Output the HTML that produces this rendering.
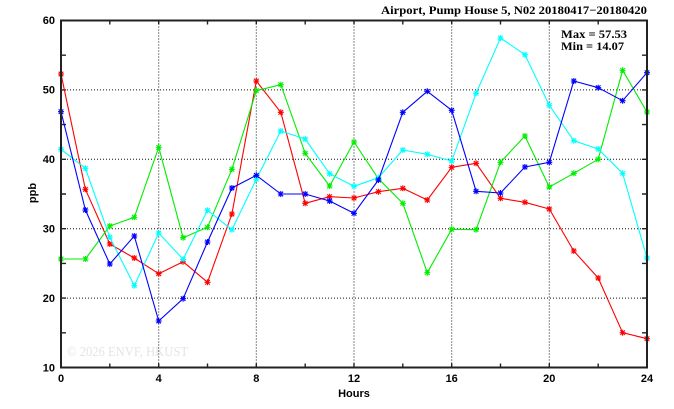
<!DOCTYPE html>
<html><head><meta charset="utf-8"><style>
html,body{margin:0;padding:0;background:#fff;}
svg{display:block;}
.tk{font-family:"Liberation Sans",sans-serif;font-weight:bold;font-size:11px;fill:#000;}
.sf{font-family:"Liberation Serif",serif;font-weight:bold;font-size:11.5px;fill:#000;}
</style></head><body>
<svg width="674" height="409" viewBox="0 0 674 409" xmlns="http://www.w3.org/2000/svg">
<defs>
<path id="m" d="M-3,0h6M0,-3v6M-2.3,-2.3l4.6,4.6M-2.3,2.3l4.6,-4.6" fill="none"/>
</defs>
<rect width="674" height="409" fill="#fff"/>
<!-- watermark -->
<text x="67" y="356" font-family="Liberation Serif,serif" font-size="14" fill="#e4e4e4" textLength="121" lengthAdjust="spacingAndGlyphs">© 2026  ENVF, HKUST</text>
<!-- grid -->
<g stroke="#111" stroke-width="1" stroke-dasharray="1,2" fill="none">
<path d="M158.7,20.5V367.5M256.3,20.5V367.5M354,20.5V367.5M451.7,20.5V367.5M549.3,20.5V367.5"/>
<path d="M61,89.9H647M61,159.3H647M61,228.7H647M61,298.1H647"/>
</g>
<!-- ticks -->
<g stroke="#222" stroke-width="1.4">
<path d="M109.8,367.5v-4M158.7,367.5v-4M207.5,367.5v-4M256.3,367.5v-4M305.2,367.5v-4M354,367.5v-4M402.8,367.5v-4M451.7,367.5v-4M500.5,367.5v-4M549.3,367.5v-4M598.2,367.5v-4"/>
<path d="M109.8,20.5v4M158.7,20.5v4M207.5,20.5v4M256.3,20.5v4M305.2,20.5v4M354,20.5v4M402.8,20.5v4M451.7,20.5v4M500.5,20.5v4M549.3,20.5v4M598.2,20.5v4"/>
<path d="M61,332.8h5M61,298.1h5M61,263.4h5M61,228.7h5M61,194h5M61,159.3h5M61,124.6h5M61,89.9h5M61,55.2h5"/>
<path d="M647,332.8h-5M647,298.1h-5M647,263.4h-5M647,228.7h-5M647,194h-5M647,159.3h-5M647,124.6h-5M647,89.9h-5M647,55.2h-5"/>
</g>
<!-- series -->
<g fill="none" stroke-width="1.1" stroke-linejoin="round">
<g stroke="#ff0000">
<polyline points="61,74 85.4,189.3 109.8,244 134.3,258 158.7,273.7 183.1,261.7 207.5,282.3 231.9,214 256.3,81 280.8,112.3 305.2,203.3 329.6,196.7 354,198 378.4,191.7 402.8,188.3 427.3,200 451.7,167.3 476.1,163.3 500.5,198.3 524.9,202.3 549.3,209 573.8,251 598.2,278 622.6,332.7 647,338.7"/>
<use href="#m" x="61" y="74"/><use href="#m" x="85.4" y="189.3"/><use href="#m" x="109.8" y="244"/><use href="#m" x="134.3" y="258"/><use href="#m" x="158.7" y="273.7"/><use href="#m" x="183.1" y="261.7"/><use href="#m" x="207.5" y="282.3"/><use href="#m" x="231.9" y="214"/><use href="#m" x="256.3" y="81"/><use href="#m" x="280.8" y="112.3"/><use href="#m" x="305.2" y="203.3"/><use href="#m" x="329.6" y="196.7"/><use href="#m" x="354" y="198"/><use href="#m" x="378.4" y="191.7"/><use href="#m" x="402.8" y="188.3"/><use href="#m" x="427.3" y="200"/><use href="#m" x="451.7" y="167.3"/><use href="#m" x="476.1" y="163.3"/><use href="#m" x="500.5" y="198.3"/><use href="#m" x="524.9" y="202.3"/><use href="#m" x="549.3" y="209"/><use href="#m" x="573.8" y="251"/><use href="#m" x="598.2" y="278"/><use href="#m" x="622.6" y="332.7"/><use href="#m" x="647" y="338.7"/>
</g>
<g stroke="#00ee00">
<polyline points="61,259 85.4,259 109.8,226 134.3,217.3 158.7,147.3 183.1,237.7 207.5,227.3 231.9,169.3 256.3,90.7 280.8,84.7 305.2,153.3 329.6,186 354,142 378.4,178.7 402.8,203.3 427.3,272.7 451.7,229.3 476.1,229.7 500.5,162.3 524.9,136 549.3,187 573.8,173.3 598.2,159.3 622.6,70.3 647,112"/>
<use href="#m" x="61" y="259"/><use href="#m" x="85.4" y="259"/><use href="#m" x="109.8" y="226"/><use href="#m" x="134.3" y="217.3"/><use href="#m" x="158.7" y="147.3"/><use href="#m" x="183.1" y="237.7"/><use href="#m" x="207.5" y="227.3"/><use href="#m" x="231.9" y="169.3"/><use href="#m" x="256.3" y="90.7"/><use href="#m" x="280.8" y="84.7"/><use href="#m" x="305.2" y="153.3"/><use href="#m" x="329.6" y="186"/><use href="#m" x="354" y="142"/><use href="#m" x="378.4" y="178.7"/><use href="#m" x="402.8" y="203.3"/><use href="#m" x="427.3" y="272.7"/><use href="#m" x="451.7" y="229.3"/><use href="#m" x="476.1" y="229.7"/><use href="#m" x="500.5" y="162.3"/><use href="#m" x="524.9" y="136"/><use href="#m" x="549.3" y="187"/><use href="#m" x="573.8" y="173.3"/><use href="#m" x="598.2" y="159.3"/><use href="#m" x="622.6" y="70.3"/><use href="#m" x="647" y="112"/>
</g>
<g stroke="#00ffff">
<polyline points="61,149.3 85.4,168.3 109.8,237.3 134.3,285.7 158.7,233 183.1,259.3 207.5,210.3 231.9,229.7 256.3,179.3 280.8,131 305.2,139 329.6,173.7 354,186.3 378.4,177.7 402.8,150 427.3,154.3 451.7,161 476.1,93.3 500.5,38 524.9,54.7 549.3,105.3 573.8,140.7 598.2,149 622.6,173.3 647,258"/>
<use href="#m" x="61" y="149.3"/><use href="#m" x="85.4" y="168.3"/><use href="#m" x="109.8" y="237.3"/><use href="#m" x="134.3" y="285.7"/><use href="#m" x="158.7" y="233"/><use href="#m" x="183.1" y="259.3"/><use href="#m" x="207.5" y="210.3"/><use href="#m" x="231.9" y="229.7"/><use href="#m" x="256.3" y="179.3"/><use href="#m" x="280.8" y="131"/><use href="#m" x="305.2" y="139"/><use href="#m" x="329.6" y="173.7"/><use href="#m" x="354" y="186.3"/><use href="#m" x="378.4" y="177.7"/><use href="#m" x="402.8" y="150"/><use href="#m" x="427.3" y="154.3"/><use href="#m" x="451.7" y="161"/><use href="#m" x="476.1" y="93.3"/><use href="#m" x="500.5" y="38"/><use href="#m" x="524.9" y="54.7"/><use href="#m" x="549.3" y="105.3"/><use href="#m" x="573.8" y="140.7"/><use href="#m" x="598.2" y="149"/><use href="#m" x="622.6" y="173.3"/><use href="#m" x="647" y="258"/>
</g>
<g stroke="#0000ff">
<polyline points="61,111.7 85.4,210 109.8,264 134.3,236 158.7,321 183.1,298.7 207.5,242 231.9,188 256.3,175.3 280.8,194 305.2,194 329.6,201 354,213.3 378.4,180 402.8,112.3 427.3,91.3 451.7,110.3 476.1,191.3 500.5,193 524.9,167 549.3,162.3 573.8,81 598.2,87.7 622.6,100.7 647,72.7"/>
<use href="#m" x="61" y="111.7"/><use href="#m" x="85.4" y="210"/><use href="#m" x="109.8" y="264"/><use href="#m" x="134.3" y="236"/><use href="#m" x="158.7" y="321"/><use href="#m" x="183.1" y="298.7"/><use href="#m" x="207.5" y="242"/><use href="#m" x="231.9" y="188"/><use href="#m" x="256.3" y="175.3"/><use href="#m" x="280.8" y="194"/><use href="#m" x="305.2" y="194"/><use href="#m" x="329.6" y="201"/><use href="#m" x="354" y="213.3"/><use href="#m" x="378.4" y="180"/><use href="#m" x="402.8" y="112.3"/><use href="#m" x="427.3" y="91.3"/><use href="#m" x="451.7" y="110.3"/><use href="#m" x="476.1" y="191.3"/><use href="#m" x="500.5" y="193"/><use href="#m" x="524.9" y="167"/><use href="#m" x="549.3" y="162.3"/><use href="#m" x="573.8" y="81"/><use href="#m" x="598.2" y="87.7"/><use href="#m" x="622.6" y="100.7"/><use href="#m" x="647" y="72.7"/>
</g>
</g>
<!-- border -->
<rect x="61" y="20.5" width="586" height="347" fill="none" stroke="#222" stroke-width="2"/>
<!-- y labels -->
<g class="tk" text-anchor="end">
<text x="55" y="24">60</text>
<text x="55" y="93.5">50</text>
<text x="55" y="163">40</text>
<text x="55" y="232.5">30</text>
<text x="55" y="302">20</text>
<text x="55" y="371.5">10</text>
</g>
<!-- x labels -->
<g class="tk" text-anchor="middle">
<text x="61" y="382">0</text>
<text x="158.7" y="382">4</text>
<text x="256.3" y="382">8</text>
<text x="354" y="382">12</text>
<text x="451.7" y="382">16</text>
<text x="549.3" y="382">20</text>
<text x="647" y="382">24</text>
<text x="354" y="397">Hours</text>
</g>
<text class="tk" text-anchor="middle" transform="translate(36,193) rotate(-90)">ppb</text>
<!-- title -->
<text class="sf" x="381" y="14" textLength="266" lengthAdjust="spacingAndGlyphs">Airport, Pump House 5, N02 20180417−20180420</text>
<text class="sf" x="561" y="38" textLength="66" lengthAdjust="spacingAndGlyphs">Max = 57.53</text>
<text class="sf" x="561" y="50" textLength="63" lengthAdjust="spacingAndGlyphs">Min = 14.07</text>
</svg>
</body></html>
